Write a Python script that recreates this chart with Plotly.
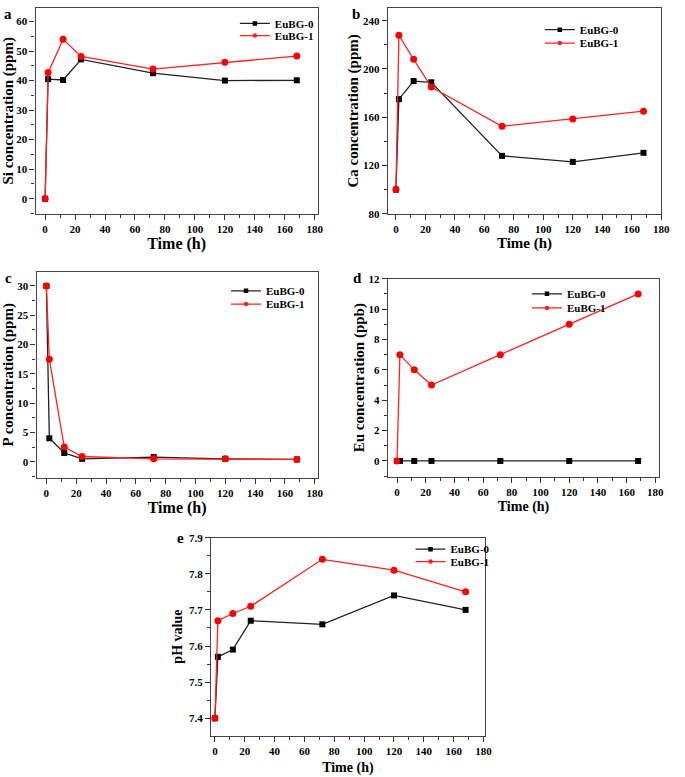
import plotly.graph_objects as go

W, H = 685, 777

time_h = [0, 2, 12, 24, 72, 120, 168]

si_eubg0 = [0, 40.5, 40.2, 47.2, 42.5, 40.0, 40.1]
si_eubg1 = [0, 42.7, 54.0, 48.2, 43.9, 46.2, 48.3]

ca_eubg0 = [100, 175, 190, 189, 128, 123, 130.5]
ca_eubg1 = [100, 228, 208, 185, 152.5, 158.5, 165]

p_eubg0 = [30, 4.0, 1.5, 0.5, 0.8, 0.5, 0.4]
p_eubg1 = [30, 17.5, 2.5, 0.9, 0.5, 0.5, 0.4]

eu_eubg0 = [0, 0, 0, 0, 0, 0, 0]
eu_eubg1 = [0, 7, 6, 5, 7, 9, 11]

ph_eubg0 = [7.40, 7.57, 7.59, 7.67, 7.66, 7.74, 7.70]
ph_eubg1 = [7.40, 7.67, 7.69, 7.71, 7.84, 7.81, 7.75]

series_names = ["EuBG-0", "EuBG-1"]
panel_letters = ["a", "b", "c", "d", "e"]
y_titles = ["Si concentration (ppm)", "Ca concentration (ppm)", "P concentration (ppm)",
            "Eu concentration (ppb)", "pH value"]
x_title = "Time (h)"

FONT = "Liberation Serif"
BLACK_LINE = "#222222"
RED_LINE = "#ff2020"

# panel boxes in pixels: (left, right, top, bottom)
boxes = [
    (36, 322, 2, 211),
    (393, 670, 2, 211),
    (37, 322, 270, 479),
    (393, 668, 277, 478),
    (214, 491, 540, 741),
]
xranges = [[-6.4, 182], [-5.5, 180], [-6.6, 182], [-6.4, 182.7], [-2.5, 180.7]]
yranges = [[-5.1, 64.6], [80, 250.6], [-2.7, 32.4], [-1.03, 12], [7.352, 7.9]]
ydticks = [10, 40, 5, 2, 0.1]
yminor = [5, 20, 2.5, 1, 0.05]
ytickfmt = [None, None, None, None, ".1f"]
# legend: line start x, row centre y for each series
legend_rows = [
    (243, 17.7, 30.0),
    (552, 24.0, 37.7),
    (234, 289.3, 302.7),
    (539, 292.3, 306.7),
    (421, 551.7, 564.3),
]
letter_pos = [(8, 8), (361, 8), (9, 276), (362, 276), (183, 540)]
xtitle_size = [16, 15, 16, 14, 14]
ytitle_size = [15, 15, 15, 15, 14]
tick_size = [11, 11, 11, 11, 11]
ytitle_standoff = [3, 0, 6, 0, 3]
xtitle_standoff = [0, 1, 3, 4, 6]

data = [
    (si_eubg0, si_eubg1),
    (ca_eubg0, ca_eubg1),
    (p_eubg0, p_eubg1),
    (eu_eubg0, eu_eubg1),
    (ph_eubg0, ph_eubg1),
]

fig = go.Figure()
layout = dict(
    width=W, height=H, margin=dict(l=0, r=0, t=0, b=0),
    paper_bgcolor="white", plot_bgcolor="white", showlegend=True,
    font=dict(family=FONT, color="black"),
)
annotations = []
leg_idx = 0

for i, (b0, b1) in enumerate(data):
    n = i + 1
    xa = "x" if n == 1 else f"x{n}"
    ya = "y" if n == 1 else f"y{n}"
    fig.add_trace(go.Scatter(
        x=time_h, y=b0, name=series_names[0], mode="lines+markers",
        line=dict(color=BLACK_LINE, width=1.3),
        marker=dict(symbol="square", size=6, color="black"),
        xaxis=xa, yaxis=ya, showlegend=False, cliponaxis=False))
    fig.add_trace(go.Scatter(
        x=time_h, y=b1, name=series_names[1], mode="lines+markers",
        line=dict(color=RED_LINE, width=1.3),
        marker=dict(symbol="circle", size=7, color="#ff0000"),
        xaxis=xa, yaxis=ya, showlegend=False, cliponaxis=False))

    # legend entries (no data, each in its own legend for exact row placement)
    lx, r0, r1 = legend_rows[i]
    for name, col, sym, ry in [(series_names[0], BLACK_LINE, "square", r0),
                               (series_names[1], RED_LINE, "circle", r1)]:
        leg_idx += 1
        lg = "legend" if leg_idx == 1 else f"legend{leg_idx}"
        fig.add_trace(go.Scatter(
            x=[None], y=[None], name=name, mode="lines+markers",
            line=dict(color=col, width=1.3),
            marker=dict(symbol=sym, size=4.5, color=col if sym == "circle" else "black"),
            xaxis=xa, yaxis=ya, legend=lg, showlegend=True))
        layout[lg] = dict(
            x=(lx - 5) / W, y=1 - ry / H, xanchor="left", yanchor="middle",
            bgcolor="rgba(0,0,0,0)", borderwidth=0,
            font=dict(family=FONT, size=11, color="black", weight="bold"),
            itemwidth=30,
        )

    l, r, t, bt = boxes[i]
    xkey = "xaxis" if n == 1 else f"xaxis{n}"
    ykey = "yaxis" if n == 1 else f"yaxis{n}"
    layout[xkey] = dict(
        domain=[l / W, r / W], anchor=ya, range=xranges[i],
        tick0=0, dtick=20, ticks="outside", ticklen=5, tickwidth=1.2, tickcolor="#333",
        minor=dict(ticks="outside", ticklen=3, dtick=10, tick0=0, tickcolor="#333", tickwidth=1.2),
        showline=True, linecolor="#444", linewidth=1.3, mirror=True,
        showgrid=False, zeroline=False,
        tickfont=dict(family=FONT, size=tick_size[i], color="black", weight="bold"),
        title=dict(text=x_title, standoff=xtitle_standoff[i],
                   font=dict(family=FONT, size=xtitle_size[i], color="black", weight="bold")),
    )
    ydict = dict(
        domain=[1 - bt / H, 1 - t / H], anchor=xa, range=yranges[i],
        tick0=0, dtick=ydticks[i], ticks="outside", ticklen=5, tickwidth=1.2, tickcolor="#333",
        minor=dict(ticks="outside", ticklen=3, dtick=yminor[i], tick0=0, tickcolor="#333", tickwidth=1.2),
        showline=True, linecolor="#444", linewidth=1.3, mirror=True,
        showgrid=False, zeroline=False,
        tickfont=dict(family=FONT, size=tick_size[i], color="black", weight="bold"),
        title=dict(text=y_titles[i], standoff=ytitle_standoff[i],
                   font=dict(family=FONT, size=ytitle_size[i], color="black", weight="bold")),
    )
    if ytickfmt[i]:
        ydict["tickformat"] = ytickfmt[i]
    layout[ykey] = ydict

    px, py = letter_pos[i]
    annotations.append(dict(
        text=panel_letters[i], x=px / W, y=1 - py / H, xref="paper", yref="paper",
        xanchor="center", yanchor="middle", showarrow=False,
        font=dict(family=FONT, size=15, color="black", weight="bold")))

layout["annotations"] = annotations
fig.update_layout(**layout)
fig.write_html("out.html", config={"displayModeBar": False},
               post_script="document.body.style.margin='0px';document.body.style.overflow='hidden';")
